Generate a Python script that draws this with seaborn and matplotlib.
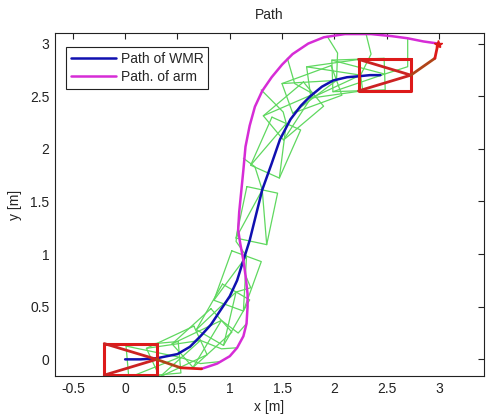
import numpy as np
import pandas as pd
import seaborn as sns
import matplotlib.pyplot as plt

# path of the mobile robot (WMR)
wmr_x = [0.0, 0.15, 0.3, 0.5, 0.62, 0.72, 0.82, 0.9, 1.0, 1.07, 1.12, 1.19, 1.25, 1.31, 1.40, 1.48, 1.58, 1.68, 1.77, 1.88, 1.99, 2.12, 2.24, 2.34, 2.44]
wmr_y = [0.0, 0.0, 0.01, 0.05, 0.12, 0.22, 0.33, 0.45, 0.6, 0.75, 0.91, 1.13, 1.37, 1.61, 1.86, 2.09, 2.28, 2.41, 2.5, 2.59, 2.65, 2.68, 2.69, 2.70, 2.70]

# path of the arm end point
arm_x = [0.73, 0.88, 1.0, 1.07, 1.13, 1.16, 1.17, 1.17, 1.15, 1.13, 1.10, 1.08, 1.09, 1.11, 1.13, 1.15, 1.19, 1.24, 1.31, 1.40, 1.50, 1.60, 1.75, 1.90, 2.10, 2.35, 2.55, 2.70, 2.85, 2.99]
arm_y = [-0.09, -0.04, 0.03, 0.11, 0.22, 0.34, 0.50, 0.62, 0.80, 0.94, 1.10, 1.23, 1.40, 1.60, 1.80, 2.02, 2.22, 2.40, 2.55, 2.68, 2.80, 2.90, 3.00, 3.06, 3.09, 3.09, 3.07, 3.05, 3.02, 3.00]

# intermediate poses: front middle point, heading (deg), arm elbow and tip
pose_x = [0.52, 0.72, 0.92, 1.06, 1.16, 1.31, 1.54, 1.80, 2.02, 2.25, 2.48]
pose_y = [0.02, 0.18, 0.37, 0.64, 0.98, 1.61, 2.24, 2.52, 2.65, 2.70, 2.71]
pose_th = [5, 25, 42, 60, 70, 78, 66, 40, 20, 8, 2]
elbow_x = [0.72, 0.92, 1.08, 1.20, 1.06, 1.24, 1.51, 1.62, 2.03, 2.35, 2.70]
elbow_y = [-0.04, 0.10, 0.25, 0.68, 1.12, 1.83, 2.35, 2.62, 2.91, 2.90, 2.78]
tip_x = [0.92, 1.07, 1.16, 1.15, 1.09, 1.13, 1.30, 1.55, 1.93, 2.30, 2.70]
tip_y = [-0.02, 0.11, 0.34, 0.80, 1.35, 1.91, 2.56, 2.86, 3.07, 3.10, 3.05]

# start and final pose (red)
red_x = [0.30, 2.73]
red_y = [0.0, 2.70]
red_th = [0, 0]
red_elbow_x = [0.53, 2.96]
red_elbow_y = [-0.08, 2.86]
red_tip_x = [0.73, 2.99]
red_tip_y = [-0.09, 3.00]

body_len = 0.5
body_wid = 0.3


def body(fx, fy, th):
    c, s = np.cos(np.radians(th)), np.sin(np.radians(th))
    n = np.array([-s, c]) * body_wid / 2
    f = np.array([fx, fy])
    b = f - body_len * np.array([c, s])
    box = np.array([f + n, f - n, b - n, b + n, f + n])
    tri = np.array([b + n, f, b - n])
    return box, tri


sns.set_theme(style="white")
plt.rcParams['font.family'] = ['Liberation Sans', 'DejaVu Sans']
plt.rcParams['font.size'] = 10

fig = plt.figure(figsize=(4.87, 4.18), dpi=100)
ax = fig.add_axes([0.113, 0.100, 0.881, 0.821])

green = '#5fd85f'
for i in range(len(pose_x)):
    box, tri = body(pose_x[i], pose_y[i], pose_th[i])
    ax.plot(box[:, 0], box[:, 1], color=green, lw=0.9)
    ax.plot(tri[:, 0], tri[:, 1], color=green, lw=0.9)
    ax.plot([pose_x[i], elbow_x[i], tip_x[i]], [pose_y[i], elbow_y[i], tip_y[i]], color=green, lw=0.9)

df_wmr = pd.DataFrame({'x': wmr_x, 'y': wmr_y})
df_arm = pd.DataFrame({'x': arm_x, 'y': arm_y})
sns.lineplot(data=df_wmr, x='x', y='y', sort=False, estimator=None, color='#1010b0', lw=1.8, ax=ax, label='Path of WMR')
sns.lineplot(data=df_arm, x='x', y='y', sort=False, estimator=None, color='#d62cd6', lw=1.8, ax=ax, label='Path. of arm')

for i in range(len(red_x)):
    box, tri = body(red_x[i], red_y[i], red_th[i])
    ax.plot(box[:, 0], box[:, 1], color='#dd1a1a', lw=2.2)
    ax.plot(tri[:, 0], tri[:, 1], color='#cc2222', lw=2.0)
    ax.plot([red_x[i], red_elbow_x[i]], [red_y[i], red_elbow_y[i]], color='#b04418', lw=2.0)
    ax.plot([red_elbow_x[i], red_tip_x[i]], [red_elbow_y[i], red_tip_y[i]], color='#dd1a1a', lw=2.0)
ax.plot(red_tip_x[1], red_tip_y[1], marker='*', color='#dd1a1a', ms=6)

ax.set_xlim(-0.67, 3.43)
ax.set_ylim(-0.16, 3.10)
ax.set_xticks(np.arange(-0.5, 3.01, 0.5))
ax.set_yticks(np.arange(0, 3.01, 0.5))
ax.set_xticklabels(['-0.5', '0', '0.5', '1', '1.5', '2', '2.5', '3'])
ax.set_yticklabels(['0', '0.5', '1', '1.5', '2', '2.5', '3'])
ax.tick_params(direction='in', length=4, width=0.8, top=True, right=True,
               labelsize=10, colors='#222222', pad=4)
for sp in ax.spines.values():
    sp.set_color('#222222')
    sp.set_linewidth(0.8)

ax.set_title('Path', fontsize=10, pad=10)
ax.set_xlabel('x [m]', fontsize=10, labelpad=3)
ax.set_ylabel('y [m]', fontsize=10, labelpad=6)

leg = ax.legend(loc='upper left', bbox_to_anchor=(0.025, 0.96), fancybox=False,
                edgecolor='#222222', framealpha=1, fontsize=10, handlelength=3.3,
                borderpad=0.35, labelspacing=0.3, handletextpad=0.3, borderaxespad=0)
leg.get_frame().set_linewidth(0.8)

fig.savefig('out.png', dpi=100)
